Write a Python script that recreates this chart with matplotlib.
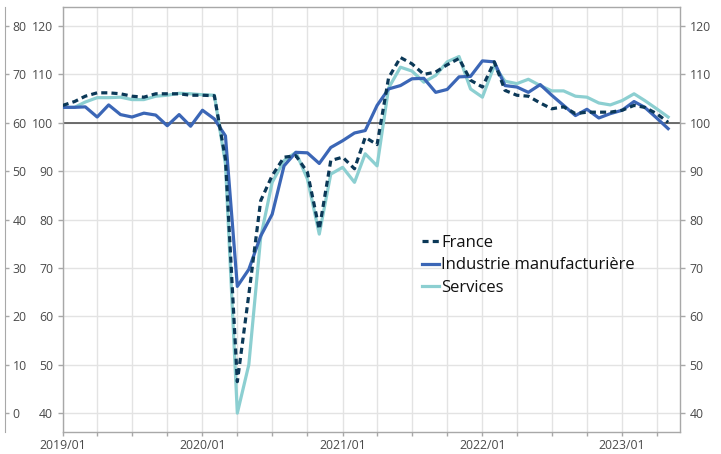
import matplotlib
matplotlib.use("Agg")
import matplotlib.pyplot as plt
import matplotlib.dates as mdates
import pandas as pd

# ---- data (monthly, 2019/01 .. 2023/05) ----
start_month = "2019-01-01"
france = [103.6, 104.4, 105.5, 106.2, 106.2, 106.0, 105.5, 105.3, 106.0, 106.0, 106.0, 105.7,
          105.7, 105.6, 92.5, 46.5, 64.5, 83.9, 89.1, 92.9, 93.2, 89.8, 78.0, 92.2,
          92.9, 90.5, 97.0, 95.5, 109.3, 113.5, 112.2, 110.0, 110.5, 112.0, 113.3, 108.8,
          107.4, 112.6, 106.7, 105.7, 105.5, 104.1, 102.9, 103.3, 101.9, 102.2, 102.2, 102.2,
          102.6, 103.6, 103.2, 101.9, 100.1]
industrie = [103.2, 103.2, 103.3, 101.2, 103.7, 101.7, 101.2, 102.0, 101.6, 99.4, 101.7, 99.3,
             102.6, 100.8, 97.3, 66.2, 69.7, 76.6, 81.1, 91.1, 93.9, 93.8, 91.6, 94.9,
             96.3, 97.9, 98.4, 103.6, 107.0, 107.7, 109.1, 109.2, 106.3, 106.9, 109.5, 109.6,
             112.8, 112.6, 107.7, 107.4, 106.3, 107.9, 105.7, 103.6, 101.5, 102.8, 101.0, 101.9,
             102.6, 104.4, 103.2, 101.0, 98.8]
services = [103.2, 103.2, 104.3, 105.2, 105.2, 105.3, 104.8, 104.8, 105.5, 105.7, 106.1, 106.0,
            105.8, 105.7, 91.5, 40.0, 50.0, 76.3, 87.7, 92.2, 93.9, 88.4, 77.0, 89.4,
            90.8, 87.7, 93.6, 91.1, 107.2, 111.5, 110.7, 108.4, 109.8, 112.6, 113.7, 107.0,
            105.3, 111.8, 108.6, 108.1, 109.0, 107.7, 106.6, 106.6, 105.5, 105.3, 104.1, 103.7,
            104.6, 106.0, 104.6, 102.9, 101.2]
series_labels = ["France", "Industrie manufacturière", "Services"]
inner_ticks = [40, 50, 60, 70, 80, 90, 100, 110, 120]
outer_ticks = [0, 10, 20, 30, 40, 50, 60, 70, 80]

dates = pd.date_range(start_month, periods=len(france), freq="MS")

plt.rcParams["font.family"] = ["Open Sans", "DejaVu Sans"]

C_FR = "#0b3857"
C_IND = "#3b66b6"
C_SER = "#8ccfd1"
GRID = "#e3e3e3"
SPINE = "#a8a8a8"
TXT = "#4a4a4a"
TS = 8.8

fig = plt.figure(figsize=(7.21, 4.54), dpi=100)
ax = fig.add_axes([62.7 / 721, 22 / 454, (680 - 62.7) / 721, (432 - 6.7) / 454])

l_ser, = ax.plot(dates, services, color=C_SER, lw=2.3, label=series_labels[2], zorder=3)
l_ind, = ax.plot(dates, industrie, color=C_IND, lw=2.3, label=series_labels[1], zorder=4)
l_fr, = ax.plot(dates, france, color=C_FR, lw=2.3, ls=(0, (1.9, 1.3)), label=series_labels[0], zorder=5)

ax.axhline(100, color="#555555", lw=1.2, zorder=2)

ylim = (36.1, 124.0)
ax.set_ylim(*ylim)
ax.set_xlim(pd.Timestamp("2019-01-01"), pd.Timestamp("2023-06-01"))
ax.set_yticks(inner_ticks)
ax.grid(axis="y", color=GRID, lw=1.0, zorder=0)

ax.xaxis.set_major_locator(mdates.YearLocator())
ax.xaxis.set_major_formatter(mdates.DateFormatter("%Y/%m"))
ax.xaxis.set_minor_locator(mdates.MonthLocator(bymonth=[1, 4, 7, 10]))
ax.grid(axis="x", which="both", color=GRID, lw=1.0, zorder=0)

for s in ax.spines.values():
    s.set_color(SPINE)
    s.set_linewidth(1.0)
ax.tick_params(axis="both", which="both", colors=SPINE, labelcolor=TXT, labelsize=TS, length=3.6, width=1)
ax.tick_params(axis="y", pad=3.3)
ax.tick_params(axis="x", which="both", length=3.2, pad=1.5)

# right axis
axr = ax.twinx()
axr.set_ylim(*ylim)
axr.set_yticks(inner_ticks)
axr.tick_params(axis="y", colors=SPINE, labelcolor=TXT, labelsize=TS, length=3.6, width=1, pad=3.3)
for s in axr.spines.values():
    s.set_visible(False)

# outer left axis (0..80)
axo = ax.twinx()
axo.set_ylim(ylim[0] - 40, ylim[1] - 40)
axo.set_yticks(outer_ticks)
axo.spines["right"].set_position(("axes", -0.0935))
for k, s in axo.spines.items():
    s.set_visible(k == "right")
axo.spines["right"].set_color(SPINE)
axo.tick_params(axis="y", colors=SPINE, labelcolor=TXT, labelsize=TS, length=3, width=1, pad=2.5)

leg = ax.legend([l_fr, l_ind, l_ser], series_labels, loc="upper left",
                bbox_to_anchor=(0.582, 0.463), frameon=False,
                fontsize=12, handlelength=1.0, handletextpad=0.15, labelspacing=0.38,
                borderpad=0, borderaxespad=0)
for t in leg.get_texts():
    t.set_color("#111111")

fig.savefig("out.png", dpi=100)
